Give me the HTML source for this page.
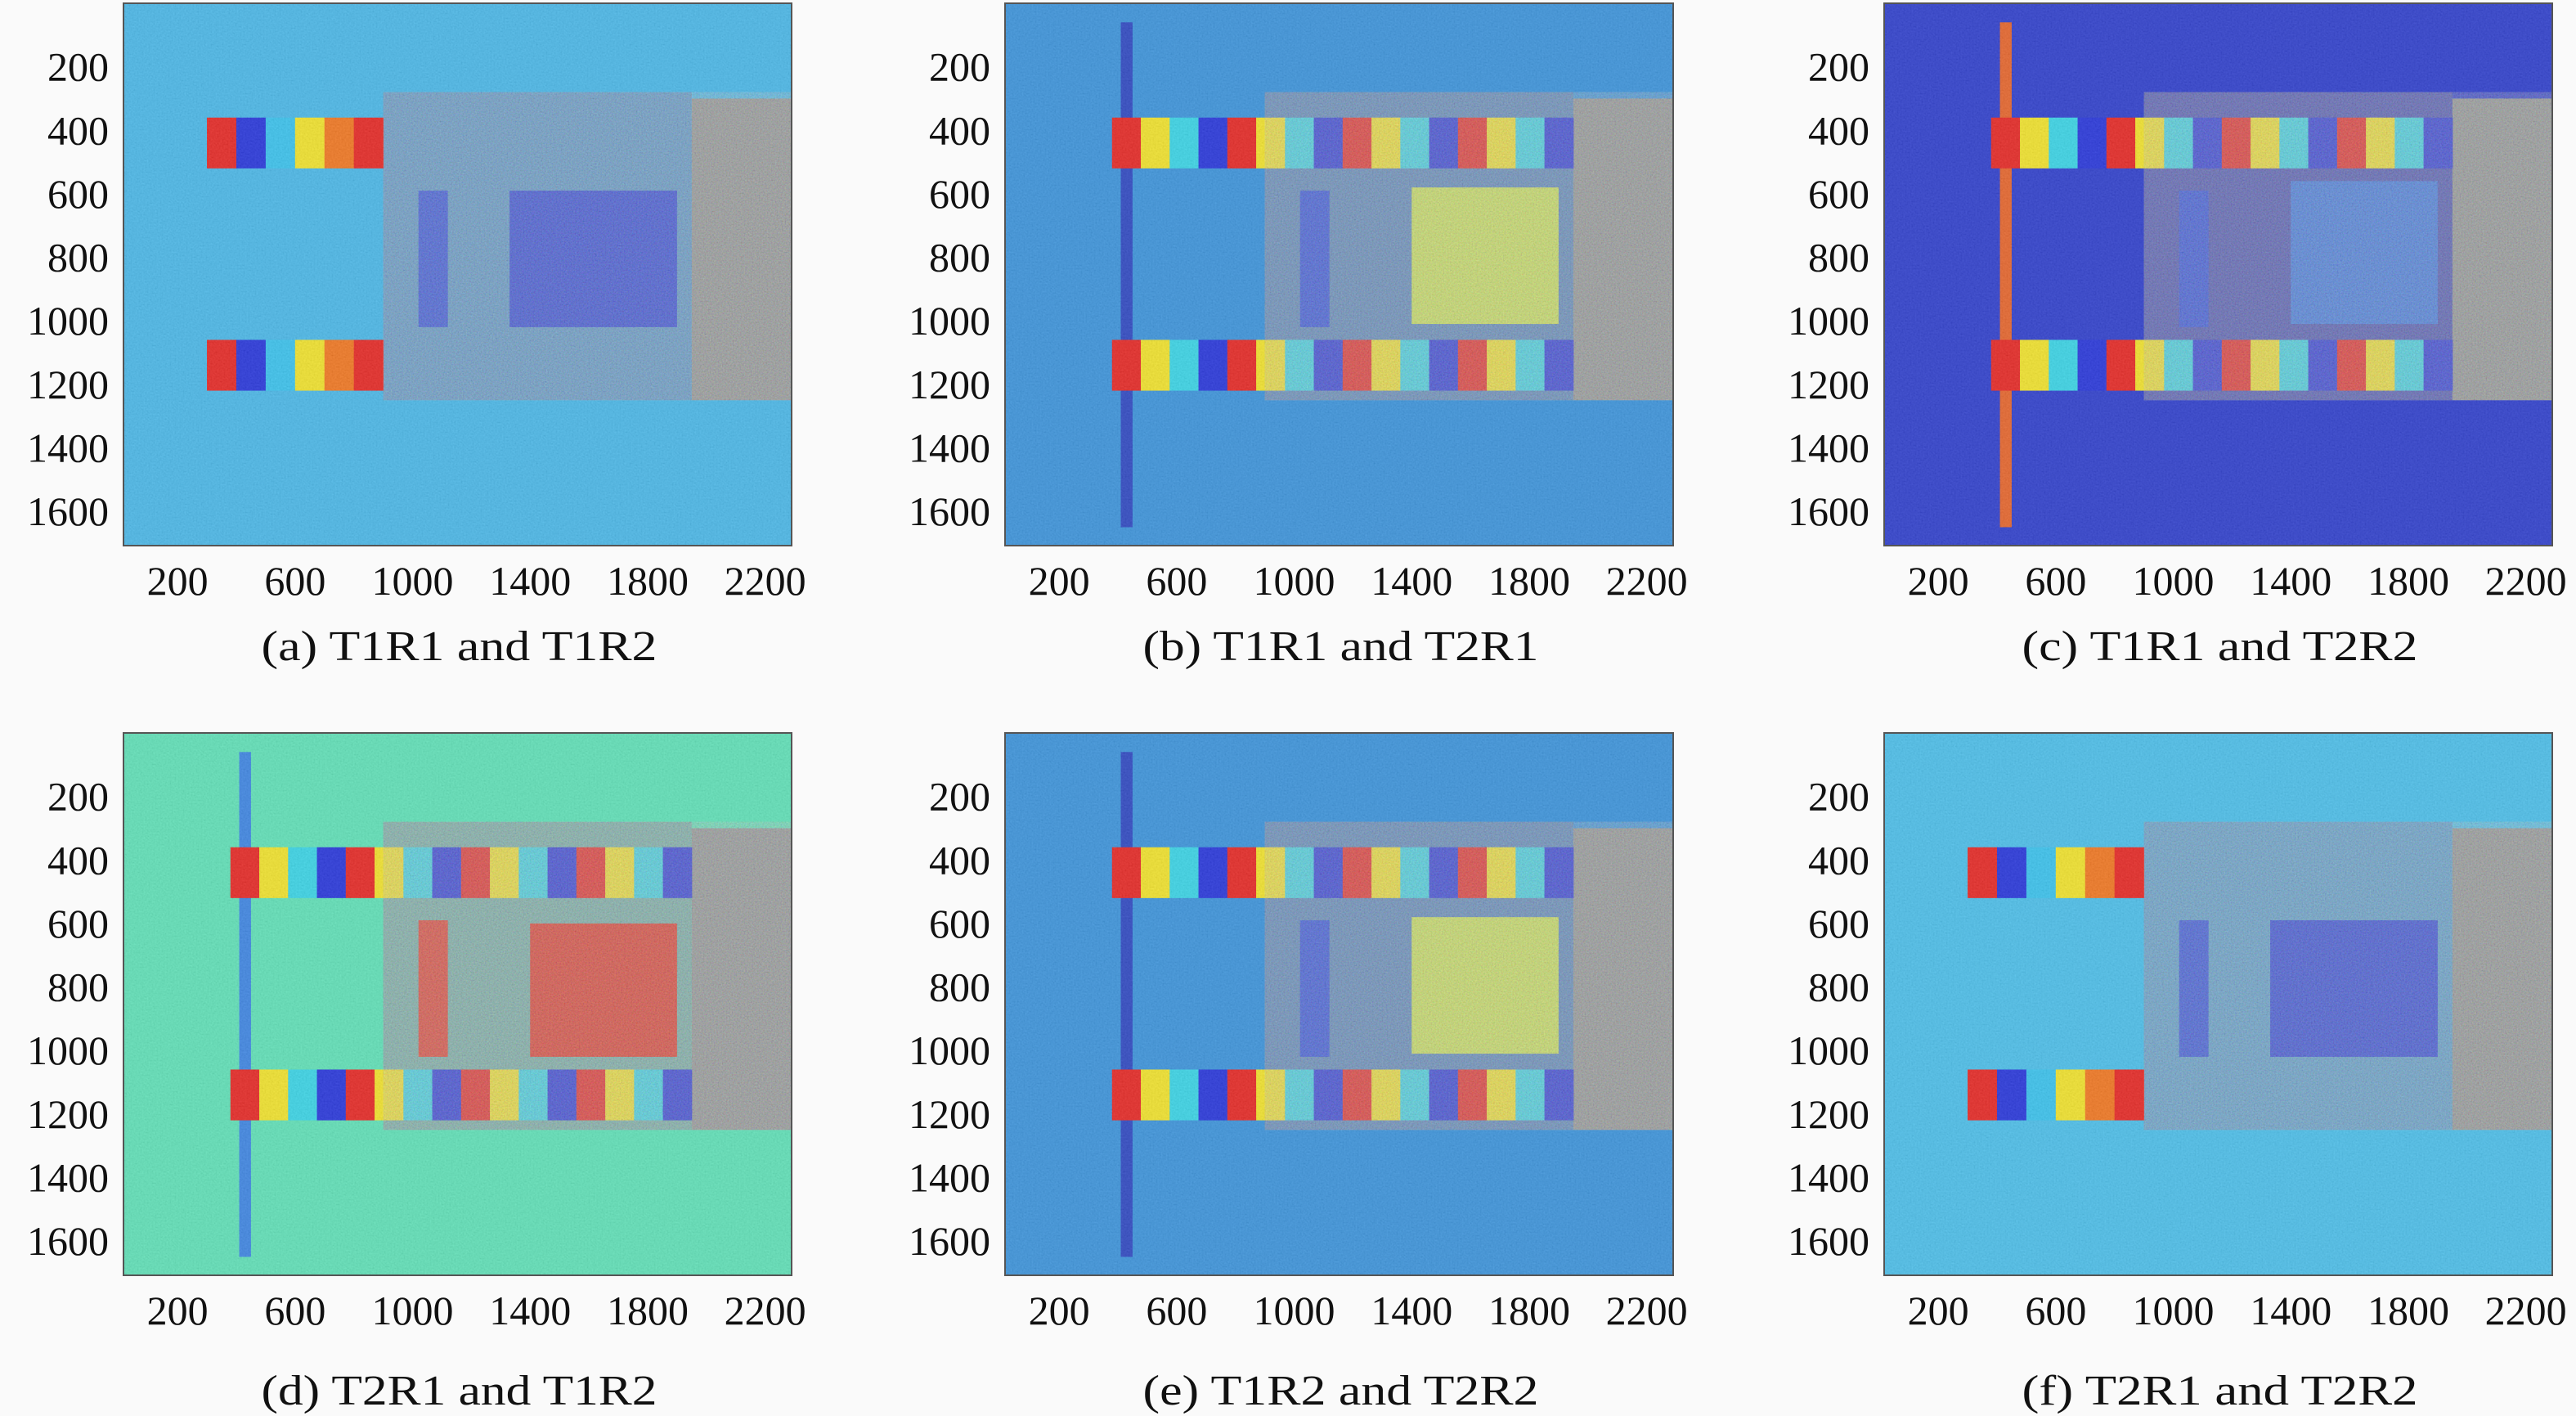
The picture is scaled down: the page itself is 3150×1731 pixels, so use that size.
<!DOCTYPE html>
<html><head><meta charset="utf-8">
<style>
html,body{margin:0;padding:0;background:#fafafa;}
svg{display:block;}
text{font-family:"Liberation Serif",serif;fill:#111;}
</style></head>
<body>
<svg id="fig" width="3150" height="1731" viewBox="0 0 3150 1731" xmlns="http://www.w3.org/2000/svg">
<defs>
<filter id="noise" x="0" y="0" width="100%" height="100%">
<feTurbulence type="fractalNoise" baseFrequency="0.5" numOctaves="2" seed="3"/>
<feColorMatrix type="matrix" values="0.33 0.33 0.33 0 0  0.33 0.33 0.33 0 0  0.33 0.33 0.33 0 0  0 0 0 0 0.22"/>
</filter>
<filter id="noiseStrong" x="0" y="0" width="100%" height="100%">
<feTurbulence type="fractalNoise" baseFrequency="0.6" numOctaves="2" seed="7"/>
<feColorMatrix type="matrix" values="1.2 0 0 0 -0.1  0 1.2 0 0 -0.1  0 0 1.2 0 -0.1  0 0 0 0 0.3"/>
</filter>
</defs>
</svg>
<script>
// axis ticks and captions
const xTicks = [200, 600, 1000, 1400, 1800, 2200];
const yTicks = [200, 400, 600, 800, 1000, 1200, 1400, 1600];
const captions = ["(a) T1R1 and T1R2","(b) T1R1 and T2R1","(c) T1R1 and T2R2","(d) T2R1 and T1R2","(e) T1R2 and T2R2","(f) T2R1 and T2R2"];
const bgColors = ["#3ab4ea","#2a8cdc","#1c2ecc","#52e2b4","#2a8cdc","#3cbcec"];
const midColors = ["#4a8ec8","#4a7cb8","#3a44b0","#6aa8a0","#4a7cb8","#4a96cc"];
// central square: [x0,y0,x1,y1,color] in image units
const squares = [
 [1330,590,1900,1020,"#1a36dc"],
 [1400,580,1900,1010,"#c8e448"],
 [1400,560,1900,1010,"#2a6ce4"],
 [1400,600,1900,1020,"#e02818"],
 [1400,580,1900,1010,"#c8e448"],
 [1330,590,1900,1020,"#1a36dc"]];
// stripe extents [x0,x1,count]
const stripeSpans = [[300,900,6],[380,1950,16],[380,1950,16],[380,1950,16],[380,1950,16],[300,900,6]];
const stripePalette = ["#e81410","#f4e418","#28d4e8","#1424dc"];
const stripePaletteA = ["#e81410","#1424dc","#28c0f0","#f4e418","#f46c0c","#e81410"];
const stripeRows = [[360,520],[1060,1220]];

const NS="http://www.w3.org/2000/svg";
const svg=document.getElementById('fig');
const colLeft=[151,1229,2304], rowTop=[4,896], PW=817, PH=663;
const XMIN=16, XMAX=2290, YMIN=0, YMAX=1708;
function mk(tag,attrs,parent){const e=document.createElementNS(NS,tag);for(const k in attrs)e.setAttribute(k,attrs[k]);parent.appendChild(e);return e;}

for(let p=0;p<6;p++){
  const row=Math.floor(p/3);
  const L=colLeft[p%3], T=rowTop[row];
  const sx=v=>L+(v-XMIN)/(XMAX-XMIN)*PW;
  const sy=v=>T+(v-YMIN)/(YMAX-YMIN)*PH;
  const g=mk('g',{},svg);
  
  
  const bg=mk('rect',{x:L,y:T,width:PW,height:PH,fill:bgColors[p]},g);
  
  
  const mid=mk('rect',{x:sx(900),y:sy(280),width:sx(1950)-sx(900),height:sy(1250)-sy(280),fill:midColors[p]},g);
  
  
  const gr=mk('rect',{x:sx(1950),y:sy(300),width:sx(XMAX)-sx(1950),height:sy(1250)-sy(300),fill:"#888c8c"},g);
  
  
  const s=squares[p];
  const sq=mk('rect',{x:sx(s[0]),y:sy(s[1]),width:sx(s[2])-sx(s[0]),height:sy(s[3])-sy(s[1]),fill:s[4]},g);
  
  
  const vb=mk('rect',{x:sx(1020),y:sy(590),width:sx(1120)-sx(1020),height:sy(1020)-sy(590),fill:(p==3?"#e03020":"#1c40e0")},g);
  
  
  if(p>=1&&p<=4){
    const vl=mk('rect',{x:sx(410),y:sy(60),width:sx(450)-sx(410),height:sy(1650)-sy(60),fill:(p==2?"#e85818":p==3?"#2c7ce4":"#1c38c0")},g);
    
    
  }
  const span=stripeSpans[p], pal=(span[2]==6?stripePaletteA:stripePalette);
  const w=(span[1]-span[0])/span[2];
  for(const r of stripeRows){
    for(let i=0;i<span[2];i++){
      const st=mk('rect',{x:sx(span[0]+i*w),y:sy(r[0]),width:sx(span[0]+(i+1)*w)-sx(span[0]+i*w)+0.5,height:sy(r[1])-sy(r[0]),fill:pal[i%pal.length]},g);
      
      
    }
  }
  const nz2=mk('rect',{x:sx(900),y:sy(280),width:sx(XMAX)-sx(900),height:sy(1250)-sy(280),filter:"url(#noiseStrong)"},g);
  
  
  const nz=mk('rect',{x:L,y:T,width:PW,height:PH,filter:"url(#noise)"},g);
  
  
  const fr=mk('rect',{x:L,y:T,width:PW,height:PH,fill:"none",stroke:"#555",'stroke-width':2},g);
  
  
  for(const t of yTicks){
    const tx=mk('text',{x:L-18,y:sy(t)+17,'font-size':50,'text-anchor':'end'},g);
    tx.textContent=t;
    
    
  }
  for(const t of xTicks){
    const tx=mk('text',{x:sx(t),y:T+PH+60,'font-size':50,'text-anchor':'middle'},g);
    tx.textContent=t;
    
    
  }
  const cap=mk('text',{x:L+PW/2-484/2+2,y:T+PH+140+(row==1?18:0),'font-size':52,textLength:484,lengthAdjust:'spacingAndGlyphs'},g);
  cap.textContent=captions[p];
  
  
}
</script>
</body></html>
